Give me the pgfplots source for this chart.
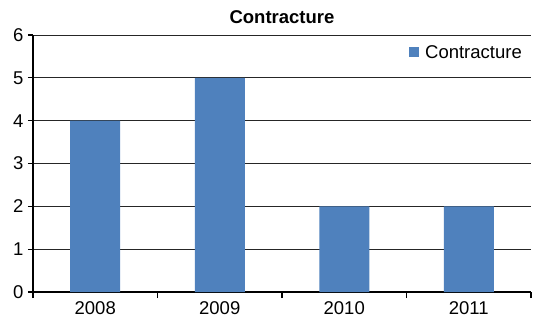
\documentclass[border=0pt]{standalone}
\usepackage{pgfplots}
\pgfplotsset{compat=1.18}
\usepackage{fontspec}
\setmainfont{Liberation Sans}
\definecolor{barblue}{RGB}{79,129,189}
\pgfplotsset{
  /pgfplots/ybar legend/.style={
    /pgfplots/legend image code/.code={\fill[barblue] (0pt,-5pt) rectangle (10pt,5pt); \path (14pt,0pt);}},
}
\begin{document}
\begin{tikzpicture}
\begin{axis}[
  name=ax,
  scale only axis,
  width=498pt, height=257pt,
  xmin=-0.5, xmax=3.5,
  ymin=0, ymax=6,
  axis lines*=left,
  axis line style={black, line width=1.2pt},
  ymajorgrids,
  grid style={black!85, line width=0.8pt},
  ytick={0,1,...,6},
  xtick={0,1,2,3},
  xticklabels={2008,2009,2010,2011},
  minor xtick={-0.5,0.5,1.5,2.5,3.5},
  tick align=outside,
  major tick length=5pt,
  minor tick length=6pt,
  major x tick style={draw=none},
  minor x tick style={black, line width=1.2pt},
  major y tick style={black, line width=1.2pt},
  tick label style={font=\fontsize{18.5}{20}\selectfont},
  /pgf/number format/assume math mode=true,
  yticklabel style={xshift=-1pt},
  xticklabel style={yshift=-1pt},
  title={\textbf{Contracture}},
  title style={font=\fontsize{18.5}{20}\selectfont, yshift=2pt},
  legend style={draw=none, fill=none, at={(1,1)}, anchor=north east,
    xshift=-4pt, yshift=-6pt, font=\fontsize{18.5}{20}\selectfont},
  ybar, bar width=50pt,
]
\addplot[fill=barblue, draw=none] coordinates {(0,4) (1,5) (2,2) (3,2)};
\addlegendentry{Contracture}
\end{axis}
\pgfresetboundingbox
\path (ax.south west) ++(-33pt,-33pt) coordinate (bl);
\path (ax.south west) ++(500pt,292pt) coordinate (tr);
\path (bl) rectangle (tr);
\end{tikzpicture}
\end{document}
